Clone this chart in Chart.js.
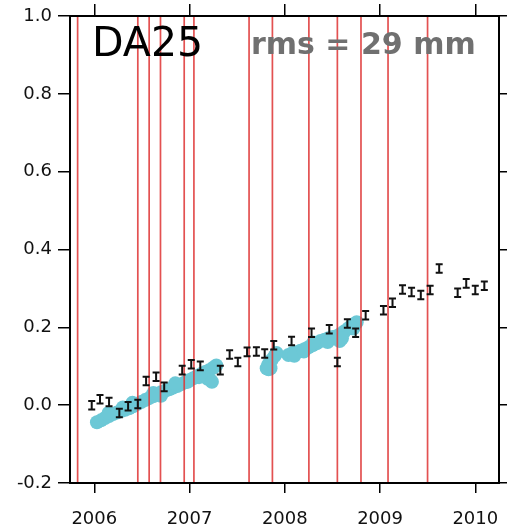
<!DOCTYPE html>
<html>
<head>
<meta charset="utf-8">
<script src="https://cdn.jsdelivr.net/npm/chart.js@4/dist/chart.umd.min.js"></script>
<style>
  html, body { margin: 0; padding: 0; background: #fff; }
  #wrap { width: 507px; height: 528px; }
</style>
</head>
<body>
<div id="wrap"><canvas id="c" width="507" height="528"></canvas></div>
<script>
// ---- Data ----
const xTickYears = [2006, 2007, 2008, 2009, 2010];
const yTickValues = [-0.2, 0.0, 0.2, 0.4, 0.6, 0.8, 1.0];

// GPS-like points with error bars (black "I" markers)
const gpsTimes = [2005.973, 2006.060, 2006.155, 2006.263, 2006.355, 2006.457, 2006.544, 2006.649, 2006.734,
  2006.923, 2007.018, 2007.113, 2007.323, 2007.421, 2007.507, 2007.604, 2007.702, 2007.789, 2007.884,
  2008.071, 2008.281, 2008.467, 2008.552, 2008.657, 2008.744, 2008.849, 2009.036, 2009.131, 2009.236,
  2009.331, 2009.428, 2009.526, 2009.621, 2009.815, 2009.905, 2010.000, 2010.095];
const gpsValues = [0.000, 0.015, 0.008, -0.020, -0.003, 0.003, 0.062, 0.073, 0.047,
  0.090, 0.105, 0.101, 0.090, 0.130, 0.111, 0.137, 0.138, 0.133, 0.154,
  0.165, 0.186, 0.195, 0.111, 0.210, 0.186, 0.231, 0.244, 0.263, 0.297,
  0.291, 0.283, 0.296, 0.351, 0.289, 0.313, 0.296, 0.307];
const gpsErrors = [0.011, 0.011, 0.011, 0.011, 0.011, 0.011, 0.011, 0.011, 0.011,
  0.011, 0.011, 0.011, 0.011, 0.011, 0.011, 0.011, 0.011, 0.011, 0.011,
  0.011, 0.011, 0.011, 0.011, 0.011, 0.011, 0.011, 0.011, 0.011, 0.011,
  0.011, 0.011, 0.011, 0.011, 0.011, 0.011, 0.011, 0.011];

// Dense cyan series
const insarTimes = [2006.028, 2006.071, 2006.113, 2006.155, 2006.197, 2006.239, 2006.281, 2006.323, 2006.365,
  2006.407, 2006.449, 2006.492, 2006.534, 2006.576, 2006.618, 2006.660, 2006.702, 2006.744, 2006.786,
  2006.828, 2006.871, 2006.913, 2006.955, 2006.997, 2007.039, 2007.081, 2007.123, 2007.165, 2007.207,
  2007.249, 2007.281, 2007.218, 2007.190, 2007.235,
  2006.400, 2006.620, 2006.850, 2007.100, 2006.150, 2006.300, 2006.700, 2006.980,
  2007.810, 2007.829, 2007.861, 2007.892, 2007.913, 2007.850, 2007.830,
  2008.039, 2008.081, 2008.123, 2008.165, 2008.207, 2008.249, 2008.291, 2008.334, 2008.376, 2008.418,
  2008.460, 2008.502, 2008.544, 2008.586, 2008.628, 2008.670, 2008.712, 2008.755, 2008.576,
  2008.100, 2008.300, 2008.600, 2008.720, 2008.200, 2008.450];
const insarValues = [-0.044, -0.039, -0.033, -0.028, -0.023, -0.019, -0.015, -0.012, -0.008,
  -0.003, 0.003, 0.008, 0.013, 0.018, 0.023, 0.028, 0.033, 0.037, 0.041,
  0.045, 0.049, 0.054, 0.059, 0.064, 0.069, 0.075, 0.080, 0.085, 0.090,
  0.096, 0.102, 0.065, 0.068, 0.060,
  0.006, 0.031, 0.056, 0.072, -0.020, -0.006, 0.024, 0.060,
  0.095, 0.105, 0.116, 0.126, 0.134, 0.095, 0.092,
  0.129, 0.134, 0.136, 0.140, 0.144, 0.149, 0.154, 0.159, 0.165, 0.168,
  0.172, 0.175, 0.177, 0.183, 0.190, 0.198, 0.206, 0.213, 0.165,
  0.127, 0.161, 0.172, 0.197, 0.138, 0.162];

// Vertical red event lines
const eventTimes = [2005.825, 2006.457, 2006.576, 2006.695, 2006.944, 2007.046, 2007.625, 2007.870,
  2008.253, 2008.552, 2008.800, 2009.084, 2009.499];

const X_MIN = 2005.745, X_MAX = 2010.249, Y_MIN = -0.2, Y_MAX = 1.0;
const titleText = 'DA25';
const rmsText = 'rms = 29 mm';

// ---- Build datasets ----
const insarData = insarTimes.map((t, i) => ({ x: t, y: insarValues[i] }));
const eventData = [];
eventTimes.forEach(t => { eventData.push({ x: t, y: Y_MIN }, { x: t, y: Y_MAX }, { x: t, y: null }); });
const gpsData = gpsTimes.map((t, i) => ({ x: t, y: gpsValues[i], e: gpsErrors[i] }));

const errorBarPlugin = {
  id: 'errorBars',
  afterDatasetsDraw(chart) {
    const ctx = chart.ctx, xs = chart.scales.x, ys = chart.scales.y;
    ctx.save();
    ctx.strokeStyle = '#111';
    ctx.lineWidth = 2;
    gpsData.forEach(p => {
      const px = xs.getPixelForValue(p.x);
      const top = ys.getPixelForValue(p.y + p.e);
      const bot = ys.getPixelForValue(p.y - p.e);
      ctx.beginPath();
      ctx.moveTo(px, top); ctx.lineTo(px, bot);
      ctx.moveTo(px - 3.5, top); ctx.lineTo(px + 3.5, top);
      ctx.moveTo(px - 3.5, bot); ctx.lineTo(px + 3.5, bot);
      ctx.stroke();
    });
    ctx.restore();
  }
};

const framePlugin = {
  id: 'frame',
  afterDraw(chart) {
    const { ctx, chartArea: a } = chart;
    ctx.save();
    ctx.strokeStyle = '#000';
    ctx.lineWidth = 2;
    ctx.strokeRect(a.left, a.top, a.right - a.left, a.bottom - a.top);
    ctx.textBaseline = 'alphabetic';
    ctx.textAlign = 'left';
    ctx.fillStyle = '#000';
    ctx.font = '41px "DejaVu Sans"';
    ctx.fillText(titleText, 92, 56);
    ctx.fillStyle = '#707070';
    ctx.font = 'bold 30px "DejaVu Sans"';
    ctx.fillText(rmsText, 251, 54);
    ctx.restore();
  }
};

const tickFont = { family: 'DejaVu Sans', size: 18 };
function zeroPad(s) { s.paddingLeft = 0; s.paddingRight = 0; s.paddingTop = 0; s.paddingBottom = 0; }

new Chart(document.getElementById('c'), {
  type: 'scatter',
  data: {
    datasets: [
      { type: 'scatter', data: insarData, backgroundColor: 'rgb(108,200,214)', borderWidth: 0,
        pointRadius: 7, pointHoverRadius: 7, order: 3 },
      { type: 'line', data: eventData, borderColor: 'rgba(222,50,50,0.85)', borderWidth: 1.7,
        pointRadius: 0, spanGaps: false, fill: false, order: 2 }
    ]
  },
  options: {
    responsive: false,
    animation: false,
    events: [],
    layout: { padding: 0 },
    plugins: { legend: { display: false }, tooltip: { enabled: false } },
    scales: {
      x: {
        type: 'linear', position: 'bottom', min: X_MIN, max: X_MAX,
        afterBuildTicks: s => { s.ticks = xTickYears.map(v => ({ value: v })); },
        afterFit: s => { s.height = 45; zeroPad(s); },
        grid: { drawOnChartArea: false, tickLength: 10, color: '#000', lineWidth: 1.5 },
        border: { display: false },
        ticks: { font: tickFont, color: '#111', padding: 16, maxRotation: 0, callback: v => String(v) }
      },
      xTop: {
        type: 'linear', position: 'top', min: X_MIN, max: X_MAX,
        afterBuildTicks: s => { s.ticks = xTickYears.map(v => ({ value: v })); },
        afterFit: s => { s.height = 16; zeroPad(s); },
        grid: { drawOnChartArea: false, tickLength: 12, color: '#000', lineWidth: 1.5 },
        border: { display: false },
        ticks: { display: false }
      },
      y: {
        type: 'linear', position: 'left', min: Y_MIN, max: Y_MAX,
        afterBuildTicks: s => { s.ticks = yTickValues.map(v => ({ value: v })); },
        afterFit: s => { s.width = 70; zeroPad(s); },
        grid: { drawOnChartArea: false, tickLength: 12, color: '#000', lineWidth: 1.5 },
        border: { display: false },
        ticks: { font: tickFont, color: '#111', padding: 6, callback: v => Number(v).toFixed(1) }
      },
      yRight: {
        type: 'linear', position: 'right', min: Y_MIN, max: Y_MAX,
        afterBuildTicks: s => { s.ticks = yTickValues.map(v => ({ value: v })); },
        afterFit: s => { s.width = 8; zeroPad(s); },
        grid: { drawOnChartArea: false, tickLength: 8, color: '#000', lineWidth: 1.5 },
        border: { display: false },
        ticks: { display: false }
      }
    }
  },
  plugins: [errorBarPlugin, framePlugin]
});
</script>
</body>
</html>
